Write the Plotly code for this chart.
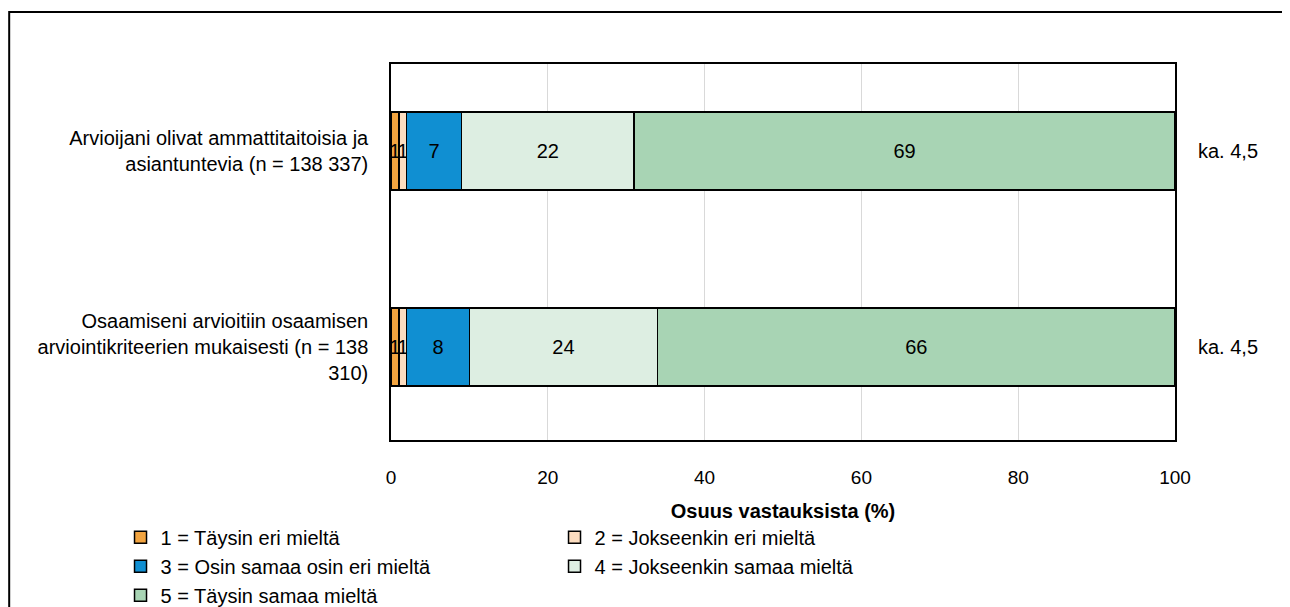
import plotly.graph_objects as go

categories = [
    "Arvioijani olivat ammattitaitoisia ja<br>asiantuntevia (n = 138 337)",
    "Osaamiseni arvioitiin osaamisen<br>arviointikriteerien mukaisesti (n = 138<br>310)",
]
series_names = [
    "1 = Täysin eri mieltä",
    "2 = Jokseenkin eri mieltä",
    "3 = Osin samaa osin eri mieltä",
    "4 = Jokseenkin samaa mieltä",
    "5 = Täysin samaa mieltä",
]
values = [
    [1, 1],
    [1, 1],
    [7, 8],
    [22, 24],
    [69, 66],
]
means = ["ka. 4,5", "ka. 4,5"]
colors = ["#F2A440", "#FCDDC0", "#108FD2", "#DDEEE2", "#A8D4B4"]
x_ticks = [0, 20, 40, 60, 80, 100]

FONT = "Liberation Sans, Arial, sans-serif"

fig = go.Figure()
for name, vals, col in zip(series_names, values, colors):
    fig.add_trace(go.Bar(
        y=categories, x=vals, name=name, orientation="h",
        marker=dict(color=col, line=dict(color="black", width=1.5)),
        text=[str(v) for v in vals], textposition="inside",
        insidetextanchor="middle", textangle=0, constraintext="none",
        textfont=dict(color="black", size=20, family=FONT),
        width=0.398,
    ))

for cat, m in zip(categories, means):
    fig.add_annotation(x=1.027, xref="paper", y=cat, yref="y", text=m,
                       showarrow=False, xanchor="left",
                       font=dict(size=20, color="black", family=FONT))

# outer frame (left, top, bottom edges; right edge lies beyond the picture)
fig.add_shape(type="path", xref="paper", yref="paper",
              path="M 1.3,1.138 L -0.487,1.138 L -0.487,-0.7",
              line=dict(color="black", width=2), layer="below")

fig.update_layout(
    barmode="stack",
    width=1282, height=599,
    margin=dict(l=383, r=115, t=56, b=167, autoexpand=False),
    plot_bgcolor="white", paper_bgcolor="white",
    font=dict(family=FONT, size=20, color="black"),
    legend=dict(orientation="h", x=-0.345, xanchor="left", y=-0.207, yanchor="top",
                entrywidth=389, entrywidthmode="pixels",
                font=dict(size=20, family=FONT), traceorder="normal",
                itemclick=False, tracegroupgap=0),
    xaxis=dict(range=[0, 100], tickvals=x_ticks, showgrid=True, gridcolor="#D9D9D9",
               gridwidth=1, showline=True, linecolor="black", linewidth=1.5, mirror=True,
               zeroline=False, ticks="", ticklabelstandoff=19,
               tickfont=dict(size=19, family=FONT),
               title=dict(text="<b>Osuus vastauksista (%)</b>", standoff=17,
                          font=dict(size=20, family=FONT))),
    yaxis=dict(categoryorder="array", categoryarray=categories, range=[1.474, -0.444],
               showline=True, linecolor="black", linewidth=1.5, mirror=True,
               ticks="", ticklabelstandoff=17, showgrid=False),
)

fig.write_html("out.html")
